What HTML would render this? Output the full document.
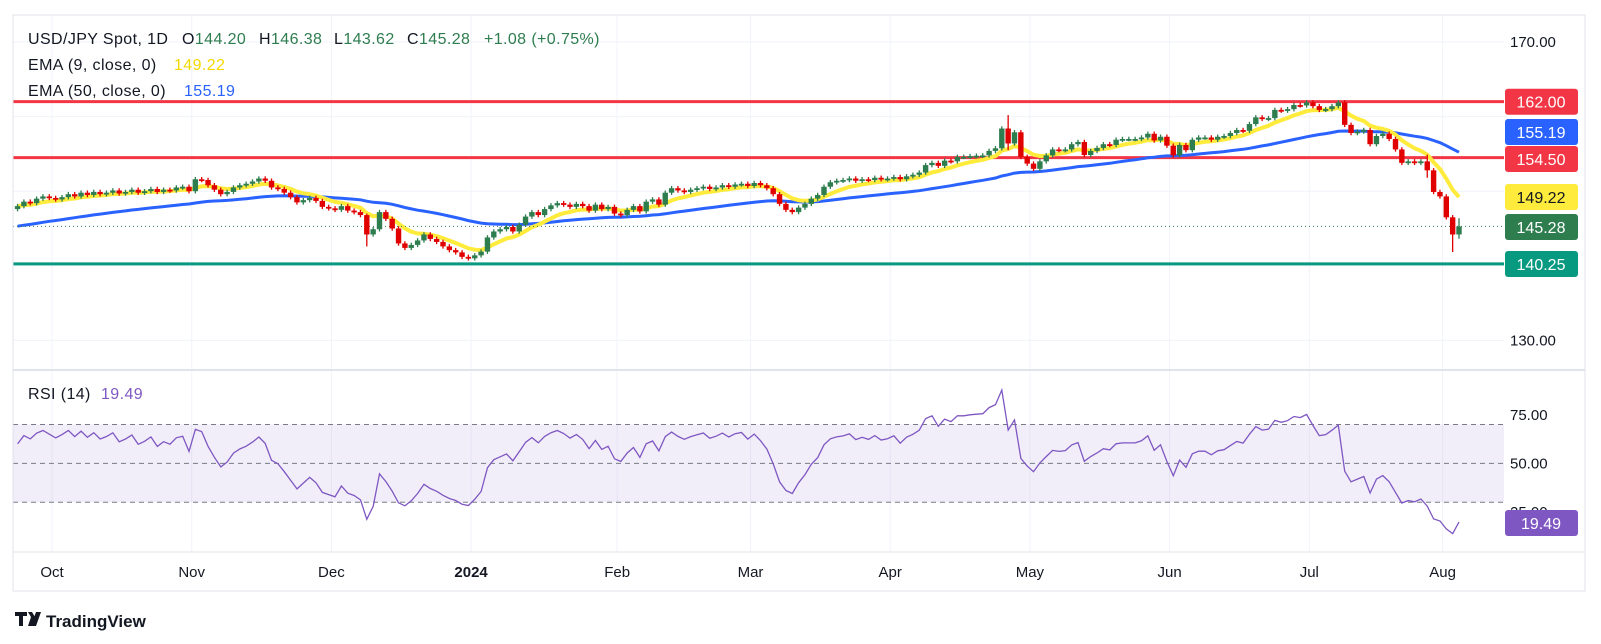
<!DOCTYPE html>
<html><head><meta charset="utf-8"><style>
body{margin:0;background:#fff;font-family:"Liberation Sans",sans-serif;}
svg{display:block}
text{font-family:"Liberation Sans",sans-serif;}
</style></head><body>
<svg id="c" width="1601" height="644" viewBox="0 0 1601 644">
<rect x="0" y="0" width="1601" height="644" fill="#fff"/>
<g id="grid"></g>
<g id="price"></g>
<g id="rsi"></g>
<g id="axes"></g>
<rect x="13" y="15" width="1572" height="576" fill="none" stroke="#e0e3eb"/>
<line x1="13" y1="370" x2="1585" y2="370" stroke="#e0e3eb" stroke-width="2"/>
<g font-size="16" letter-spacing="0.4">
<text y="44" fill="#131722"><tspan x="28">USD/JPY Spot, 1D</tspan><tspan x="182">O</tspan><tspan fill="#2e7d4f">144.20</tspan><tspan x="259">H</tspan><tspan fill="#2e7d4f">146.38</tspan><tspan x="334">L</tspan><tspan fill="#2e7d4f">143.62</tspan><tspan x="407">C</tspan><tspan fill="#2e7d4f">145.28</tspan><tspan x="484" fill="#2e7d4f">+1.08 (+0.75%)</tspan></text>
<text y="70" fill="#131722"><tspan x="28">EMA (9, close, 0)</tspan><tspan x="174" fill="#f5d800">149.22</tspan></text>
<text y="96" fill="#131722"><tspan x="28">EMA (50, close, 0)</tspan><tspan x="184" fill="#2962ff">155.19</tspan></text>
<text y="399" fill="#131722"><tspan x="28">RSI (14)</tspan><tspan x="101" fill="#7e57c2">19.49</tspan></text>
</g>
<g>
<path d="M15 612h12v4h-4v10h-4v-10h-4z M28 612h4l3 5-3 9h-4l3-9z M36 612h5l-5 14h-5z" fill="#131722"/>
<text x="46" y="627" font-size="17" fill="#131722" font-weight="bold">TradingView</text>
</g>
</svg>
<script>
const closes=[148.0,148.6,148.4,149.0,149.3,149.1,148.9,
149.2,149.6,149.3,149.8,149.5,149.9,149.6,149.8,150.1,149.7,149.9,150.2,149.8,150.0,150.3,149.9,150.2,150.1,150.5,
150.6,150.0,151.6,151.5,
150.8,150.2,149.6,149.9,150.5,150.8,
151.0,151.3,151.7,151.4,150.5,
150.3,149.8,149.2,148.5,148.8,149.1,148.7,
147.9,147.7,147.5,148.0,147.4,147.2,146.8,
144.2,144.9,147.2,146.3,145.0,143.0,
142.4,142.8,143.4,144.2,143.6,143.2,142.6,142.1,141.8,141.2,
141.0,141.4,141.9,143.8,144.6,
144.9,145.2,144.6,145.5,146.6,147.2,146.8,147.6,148.1,
148.4,148.2,147.9,148.3,148.0,147.4,148.2,147.6,
147.9,147.0,146.8,147.5,148.0,147.3,148.6,
148.9,148.2,149.8,150.4,150.1,149.9,150.2,150.4,150.6,
150.3,150.5,150.8,150.6,150.9,151.0,150.7,151.1,150.8,150.4,
149.6,148.3,147.5,
147.2,147.8,148.3,149.0,
149.5,150.6,151.2,
151.4,151.5,151.7,151.4,151.6,151.5,151.8,151.6,151.7,151.9,151.6,152.0,152.2,
152.5,153.5,153.8,153.4,154.1,154.0,154.6,
154.6,154.7,
154.76,154.8,155.4,155.75,158.4,156.4,157.9,154.6,153.7,153.0,154.0,154.8,155.6,155.5,155.6,156.3,156.6,154.85,155.4,155.8,156.3,156.2,156.9,157.0,157.0,157.0,157.2,157.7,156.8,157.3,156.1,154.8,156.2,155.5,156.9,157.2,157.2,156.9,157.3,157.4,157.8,158.2,158.1,159.0,159.9,159.7,159.8,160.9,160.8,161.0,161.55,161.5,161.9,161.4,160.9,161.0,161.4,161.9,158.9,157.8,158.0,158.2,156.3,157.4,157.7,157.0,155.6,153.8,154.0,153.8,154.0,152.8,149.9,149.3,146.5,144.2,145.28];
const firstOpen=147.6;
const lastOpen=144.20;
const wickOverrides=[[156,160.2,155.5],[226,146.8,141.85],[227,146.38,143.62],[55,147.0,142.6],[222,154.9,151.8]];
const levels=[162.00,154.50,140.25];
const priceTicks=[170,160,150,140,130];
const rsiTicks=[75,50,25];
const rsiBands=[70,50,30];
const months=["Oct","Nov","Dec","2024","Feb","Mar","Apr","May","Jun","Jul","Aug"];
const monthBar=[7,29,51,73,96,117,139,161,183,205,226];
const ema9Seed=148.0, ema50Seed=145.2;

const NS="http://www.w3.org/2000/svg";
const N=closes.length;
const xOf=i=>1459-(N-1-i)*6.35;
const yP=p=>42+(170-p)*7.46;
const yR=r=>463.4-(r-50)*1.945;
function mk(tag,attrs,parent){const e=document.createElementNS(NS,tag);for(const k in attrs)e.setAttribute(k,attrs[k]);parent.appendChild(e);return e;}
const G=id=>document.getElementById(id);
const grid=G('grid'),price=G('price'),rsiG=G('rsi'),axes=G('axes');

priceTicks.forEach(t=>{const l=mk('line',{x1:13,x2:1504,y1:yP(t),y2:yP(t),stroke:'#f0f3fa'},grid);

});
monthBar.forEach((b,k)=>{const l=mk('line',{x1:xOf(b)-10,x2:xOf(b)-10,y1:15,y2:552,stroke:'#f0f3fa'},grid);


const t=mk('text',{x:xOf(b)-10,y:577,'text-anchor':'middle','font-size':15,fill:'#131722','font-weight':months[k]==='2024'?'bold':'normal'},axes);
t.textContent=months[k];

});
mk('line',{x1:13,x2:1585,y1:552,y2:552,stroke:'#e0e3eb'},axes);

const band=mk('rect',{x:13,y:yR(rsiBands[0]),width:1491,height:yR(rsiBands[2])-yR(rsiBands[0]),fill:'rgba(126,87,194,0.1)'},rsiG);


rsiBands.forEach(v=>{const l=mk('line',{x1:13,x2:1504,y1:yR(v),y2:yR(v),stroke:'#787b86','stroke-dasharray':'5,4'},rsiG);

});

const lvlCol=['#f23645','#f23645','#089981'];
levels.forEach((v,k)=>{const l=mk('line',{x1:13,x2:1504,y1:yP(v),y2:yP(v),stroke:lvlCol[k],'stroke-width':3},price);

});

function ema(n,seed){const a=2/(n+1);let e=seed;return closes.map(c=>(e=e+a*(c-e)));}
const e9=ema(9,ema9Seed),e50=ema(50,ema50Seed);
const pth=arr=>arr.map((v,i)=>(i?'L':'M')+xOf(i).toFixed(1)+' '+yP(v).toFixed(1)).join('');
const b50=mk('path',{d:pth(e50),stroke:'#2962ff','stroke-width':3,fill:'none'},price);


const y9=mk('path',{d:pth(e9),stroke:'#ffeb3b','stroke-width':4,fill:'none','stroke-linejoin':'round'},price);


const cl=mk('line',{x1:13,x2:1504,y1:yP(closes[N-1]),y2:yP(closes[N-1]),stroke:'#2e7d4f','stroke-dasharray':'1,3'},price);



for(let i=0;i<N;i++){
 const o=i===N-1?lastOpen:(i?closes[i-1]:firstOpen),c=closes[i];
 let hi=Math.max(o,c)+0.3,lo=Math.min(o,c)-0.3;
 wickOverrides.forEach(w=>{if(w[0]===i){hi=w[1];lo=w[2];}});
 const col=c>=o?'#2e7d4f':'#e00000';
 const g=mk('g',{},price);
 
 
 const x=xOf(i);
 mk('line',{x1:x,x2:x,y1:yP(hi),y2:yP(lo),stroke:col,'stroke-width':1.3},g);
 const t=yP(Math.max(o,c)),h=Math.max(1.8,yP(Math.min(o,c))-t);
 mk('rect',{x:x-2.7,y:t,width:5.4,height:h,fill:col},g);
}

const gains=[],losses=[];
for(let i=1;i<N;i++){const d=closes[i]-closes[i-1];gains.push(Math.max(d,0));losses.push(Math.max(-d,0));}
let ag=0.35,al=0.22;const rsi=[60];
gains.forEach((g,k)=>{ag=(ag*13+g)/14;al=(al*13+losses[k])/14;rsi.push(100-100/(1+ag/Math.max(al,1e-6)));});
const rl=mk('path',{d:rsi.map((v,i)=>(i?'L':'M')+xOf(i).toFixed(1)+' '+yR(v).toFixed(1)).join(''),stroke:'#7e57c2','stroke-width':1.3,fill:'none'},rsiG);



priceTicks.filter(t=>t===170||t===130).forEach(t=>{const tx=mk('text',{x:1510,y:yP(t)+5,'font-size':15,fill:'#131722'},axes);
tx.textContent=t.toFixed(2);

});
rsiTicks.forEach(t=>{const tx=mk('text',{x:1510,y:yR(t)+5,'font-size':15,fill:'#131722'},axes);
tx.textContent=t.toFixed(2);

});
const tags=[[162.00,'#f23645','#fff'],[e50[N-1],'#2962ff','#fff'],[154.50,'#f23645','#fff'],[e9[N-1],'#ffeb3b','#131722'],[closes[N-1],'#2e7d4f','#fff'],[140.25,'#089981','#fff']];
const tagTxt=['162.00','155.19','154.50','149.22','145.28','140.25'];
const tagY=[101.7,132,159,197,227,264];
tags.forEach((t,k)=>{const g=mk('g',{},axes);


mk('rect',{x:1505,y:tagY[k]-13,width:73,height:26,rx:3,fill:t[1]},g);
const tx=mk('text',{x:1541,y:tagY[k]+6,'text-anchor':'middle','font-size':16,fill:t[2]},g);tx.textContent=tagTxt[k];});
const rg=mk('g',{},axes);


mk('rect',{x:1505,y:510,width:73,height:26,rx:3,fill:'#7e57c2'},rg);
const rt=mk('text',{x:1541,y:529,'text-anchor':'middle','font-size':16,fill:'#fff'},rg);rt.textContent='19.49';
</script>
</body></html>
